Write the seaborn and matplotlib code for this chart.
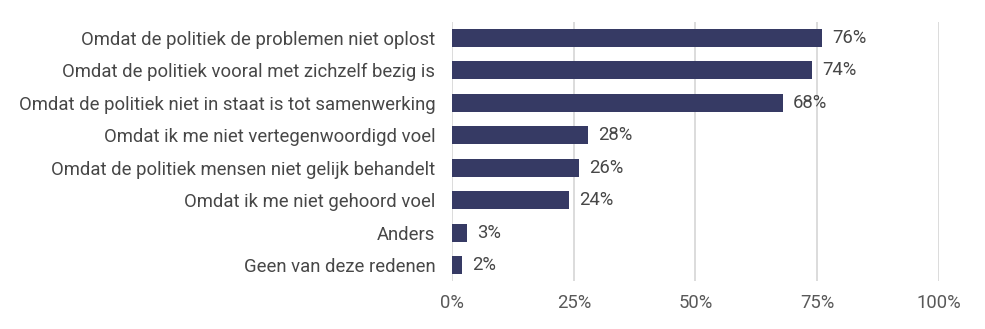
import matplotlib
matplotlib.use("Agg")
import matplotlib.pyplot as plt
import seaborn as sns
import pandas as pd

categories = [
    "Omdat de politiek de problemen niet oplost",
    "Omdat de politiek vooral met zichzelf bezig is",
    "Omdat de politiek niet in staat is tot samenwerking",
    "Omdat ik me niet vertegenwoordigd voel",
    "Omdat de politiek mensen niet gelijk behandelt",
    "Omdat ik me niet gehoord voel",
    "Anders",
    "Geen van deze redenen",
]
values = [76, 74, 68, 28, 26, 24, 3, 2]
xticks = [0, 25, 50, 75, 100]
xtick_labels = ["0%", "25%", "50%", "75%", "100%"]

sns.set_theme(style="white")
plt.rcParams["font.family"] = ["Roboto", "DejaVu Sans"]

FS = 13.3

df = pd.DataFrame({"cat": categories, "val": values})

fig = plt.figure(figsize=(9.85, 3.29), dpi=100)
ax = fig.add_axes([0.459, 0.145, 0.494, 0.789])
sns.barplot(data=df, x="val", y="cat", color="#363a64", saturation=1,
            width=0.56, ax=ax, orient="h", linewidth=0)

ax.set_xlim(0, 100)
ax.set_ylim(7.5, -0.5)
ax.set_xticks(xticks)
ax.set_xticklabels(xtick_labels, fontsize=FS, color="#595959")
ax.tick_params(axis="y", labelsize=FS, labelcolor="#474747", length=0, pad=12)
ax.tick_params(axis="x", length=0, pad=9)
ax.set_xlabel("")
ax.set_ylabel("")
ax.grid(axis="x", color="#d9d9d9", linewidth=1.3)
ax.grid(axis="y", visible=False)
ax.set_axisbelow(True)
for s in ax.spines.values():
    s.set_visible(False)

for i, v in enumerate(values):
    ax.text(v + 2.1, i, f"{v}%", va="center", ha="left", fontsize=FS,
            color="#474747")

fig.savefig("out.png", dpi=100)
